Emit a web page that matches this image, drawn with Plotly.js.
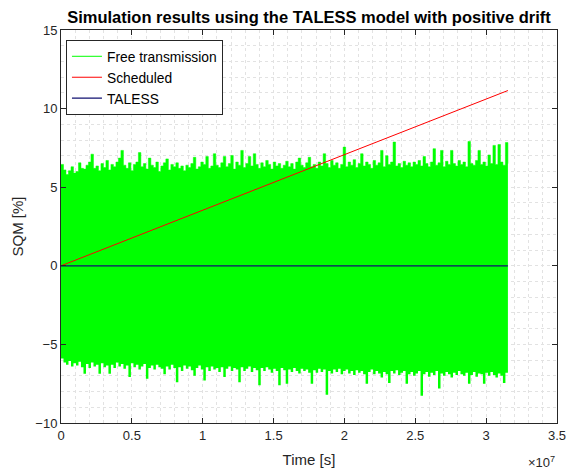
<!DOCTYPE html>
<html>
<head>
<meta charset="utf-8">
<script src="https://cdn.plot.ly/plotly-3.0.1.min.js"></script>
<style>html,body{margin:0;padding:0;background:#fff;}#chart{width:570px;height:475px;}</style>
</head>
<body>
<div id="chart"></div>
<script>
// Time span of the simulation (s)
var tEnd = 3.1536e7;

// Free transmission: upper envelope (SQM %), evenly spaced over [0, tEnd]
var freeUpper = [
 6.45, 6.1, 5.8, 6.05, 6.3, 5.9, 6.0, 6.55, 6.2, 6.15,
 6.4, 6.6, 7.1, 6.2, 6.35, 6.05, 6.5, 6.25, 6.7, 6.1,
 6.45, 6.3, 6.6, 6.85, 7.34, 6.4, 6.2, 6.55, 6.05, 6.45,
 6.6, 7.2, 6.3, 6.5, 6.15, 6.85, 6.4, 6.25, 6.6, 6.0,
 6.35, 6.55, 6.8, 6.1, 6.45, 6.3, 6.55, 6.2, 6.35, 6.05,
 6.4, 6.25, 6.5, 6.9, 6.15, 6.3, 6.6, 6.45, 6.95, 6.2,
 6.35, 7.13, 6.4, 6.25, 6.55, 6.95, 6.3, 6.5, 7.02, 6.15,
 6.6, 6.4, 7.34, 6.25, 6.5, 6.95, 6.35, 7.13, 6.45, 6.2,
 6.55, 6.3, 6.7, 6.45, 6.15, 6.6, 6.35, 6.5, 6.2, 6.4,
 6.65, 6.3, 6.5, 6.15, 6.6, 6.85, 6.4, 6.25, 6.55, 6.9,
 6.3, 6.45, 6.2, 6.6, 6.35, 7.13, 6.5, 6.25, 6.7, 6.4,
 6.55, 6.2, 6.45, 7.55, 6.3, 6.6, 6.4, 6.75, 6.25, 6.5,
 7.13, 6.35, 6.6, 6.45, 6.2, 6.7, 6.4, 6.55, 7.34, 6.3,
 7.0, 6.45, 6.6, 7.87, 6.35, 6.5, 6.25, 6.65, 6.4, 6.55,
 6.3, 6.6, 6.45, 6.7, 6.35, 6.95, 6.5, 6.3, 6.6, 7.45,
 6.4, 6.55, 7.34, 6.3, 6.65, 6.45, 7.34, 6.5, 6.35, 6.7,
 6.45, 6.6, 6.3, 7.91, 6.5, 6.4, 6.7, 7.34, 6.45, 6.6,
 6.35, 7.05, 6.5, 7.66, 6.45, 7.71, 6.6, 6.4, 7.84, 6.5
];
// Free transmission: lower envelope (SQM %)
var freeLower = [
 -5.9, -6.15, -6.3, -6.05, -6.4, -6.2, -6.35, -6.1, -6.45, -6.86,
 -6.25, -6.5, -6.15, -6.4, -6.3, -6.86, -6.2, -6.45, -6.35, -6.86,
 -6.3, -6.5, -6.15, -6.4, -6.25, -6.55, -6.35, -7.07, -6.2, -6.45,
 -6.3, -6.6, -6.4, -6.25, -7.18, -6.5, -6.35, -6.6, -6.3, -6.45,
 -6.55, -6.9, -6.4, -6.6, -6.3, -6.5, -7.41, -6.45, -6.7, -6.35,
 -6.55, -6.4, -6.65, -7.0, -6.5, -6.35, -6.6, -7.3, -6.45, -6.7,
 -6.4, -6.6, -6.5, -6.75, -6.45, -7.07, -6.55, -6.4, -6.7, -6.5,
 -6.6, -7.41, -6.45, -6.7, -6.55, -6.4, -6.75, -6.5, -6.65, -7.6,
 -6.5, -6.7, -6.45, -6.6, -6.8, -6.55, -6.7, -7.6, -6.5, -6.65,
 -7.5, -6.6, -6.75, -6.5, -6.7, -6.85, -6.55, -6.7, -6.6, -6.8,
 -7.5, -6.65, -6.8, -6.55, -6.75, -6.6, -8.2, -6.7, -6.85, -6.6,
 -6.75, -6.55, -6.9, -6.7, -6.6, -6.85, -6.7, -6.95, -6.65, -6.8,
 -6.7, -6.9, -7.5, -6.75, -6.6, -6.9, -6.7, -6.85, -7.1, -6.75,
 -6.9, -7.45, -6.7, -6.85, -6.65, -6.95, -6.8, -6.7, -7.5, -6.9,
 -6.75, -7.0, -6.85, -6.7, -8.26, -6.9, -6.75, -7.05, -6.8, -6.95,
 -6.7, -7.8, -6.85, -7.0, -6.75, -6.9, -7.1, -6.8, -6.95, -6.7,
 -6.9, -7.0, -6.8, -7.5, -6.95, -6.75, -7.05, -6.85, -6.9, -7.5,
 -6.8, -7.0, -6.75, -6.95, -7.1, -6.85, -7.0, -7.45, -6.8, -6.9
];

// Scheduled (linear drift) and TALESS series
var schedTime = [0, 3.1536e7];
var schedVals = [0, 11.15];
var talessTime = [0, 3.1536e7];
var talessVals = [0, 0];

// Axis ticks
var xTickVals = [0, 5e6, 1e7, 1.5e7, 2e7, 2.5e7, 3e7, 3.5e7];
var xTickText = ['0', '0.5', '1', '1.5', '2', '2.5', '3', '3.5'];
var yTickVals = [-10, -5, 0, 5, 10, 15];

var freeTime = freeUpper.map(function (_, i) { return i * tEnd / (freeUpper.length - 1); });

var font = 'Liberation Sans, Arial, Helvetica, sans-serif';
var gridCol = '#e2e2e2';

var traces = [
  { x: freeTime, y: freeLower, type: 'scatter', mode: 'lines', line: { width: 0, shape: 'hv', color: '#00ff00' },
    showlegend: false, hoverinfo: 'skip' },
  { x: freeTime, y: freeUpper, type: 'scatter', mode: 'lines', fill: 'tonexty', fillcolor: '#00ff00',
    line: { width: 0.5, shape: 'hv', color: '#00ff00' }, showlegend: false, hoverinfo: 'skip' },
  { x: [null], y: [null], type: 'scatter', mode: 'lines', name: 'Free transmission', line: { color: '#00ff00', width: 1 } },
  { x: schedTime, y: schedVals, type: 'scatter', mode: 'lines', name: 'Scheduled', line: { color: '#ff0000', width: 1 } },
  { x: talessTime, y: talessVals, type: 'scatter', mode: 'lines', name: 'TALESS', line: { color: '#101070', width: 1.2 } }
];

var layout = {
  width: 570, height: 475,
  margin: { l: 61, r: 13, t: 30, b: 52, pad: 0 },
  paper_bgcolor: '#ffffff', plot_bgcolor: '#ffffff',
  font: { family: font, size: 13, color: '#262626' },
  title: { text: '<b>Simulation results using the TALESS model with positive drift</b>',
    font: { family: font, size: 16.5, color: '#000000' },
    xref: 'paper', x: 0.5, xanchor: 'center', yref: 'paper', y: 1, yanchor: 'bottom', pad: { b: 7 } },
  xaxis: {
    range: [0, 3.5e7], tickmode: 'array', tickvals: xTickVals, ticktext: xTickText,
    ticks: 'inside', ticklen: 5, tickcolor: '#262626', showline: true, linecolor: '#262626', linewidth: 1, mirror: 'ticks',
    showgrid: true, gridcolor: gridCol, griddash: 'dot', gridwidth: 1, zeroline: false,
    minor: { tick0: 0, dtick: 1e6, showgrid: true, gridcolor: gridCol, griddash: 'dot', gridwidth: 1, ticks: '' },
    tickfont: { family: font, size: 13, color: '#262626' },
    title: { text: 'Time [s]', font: { family: font, size: 15, color: '#262626' }, standoff: 12 }
  },
  yaxis: {
    range: [-10, 15], tickmode: 'array', tickvals: yTickVals,
    ticks: 'inside', ticklen: 5, tickcolor: '#262626', showline: true, linecolor: '#262626', linewidth: 1, mirror: 'ticks',
    showgrid: true, gridcolor: gridCol, griddash: 'dot', gridwidth: 1, zeroline: false,
    minor: { tick0: 0, dtick: 1, showgrid: true, gridcolor: gridCol, griddash: 'dot', gridwidth: 1, ticks: '' },
    tickfont: { family: font, size: 13, color: '#262626' },
    title: { text: 'SQM [%]', font: { family: font, size: 15, color: '#262626' }, standoff: 8 }
  },
  legend: {
    x: 0.01, y: 0.975, xanchor: 'left', yanchor: 'top', traceorder: 'normal',
    bgcolor: '#ffffff', bordercolor: '#262626', borderwidth: 1,
    font: { family: font, size: 13.8, color: '#000000' }, tracegroupgap: 0
  },
  annotations: [
    { xref: 'paper', yref: 'paper', x: 1.0, y: -0.075, xanchor: 'right', yanchor: 'top', showarrow: false,
      text: '×10<sup>7</sup>', font: { family: font, size: 13, color: '#262626' } }
  ],
  showlegend: true
};

Plotly.newPlot('chart', traces, layout, { displayModeBar: false, staticPlot: true });
</script>
</body>
</html>
